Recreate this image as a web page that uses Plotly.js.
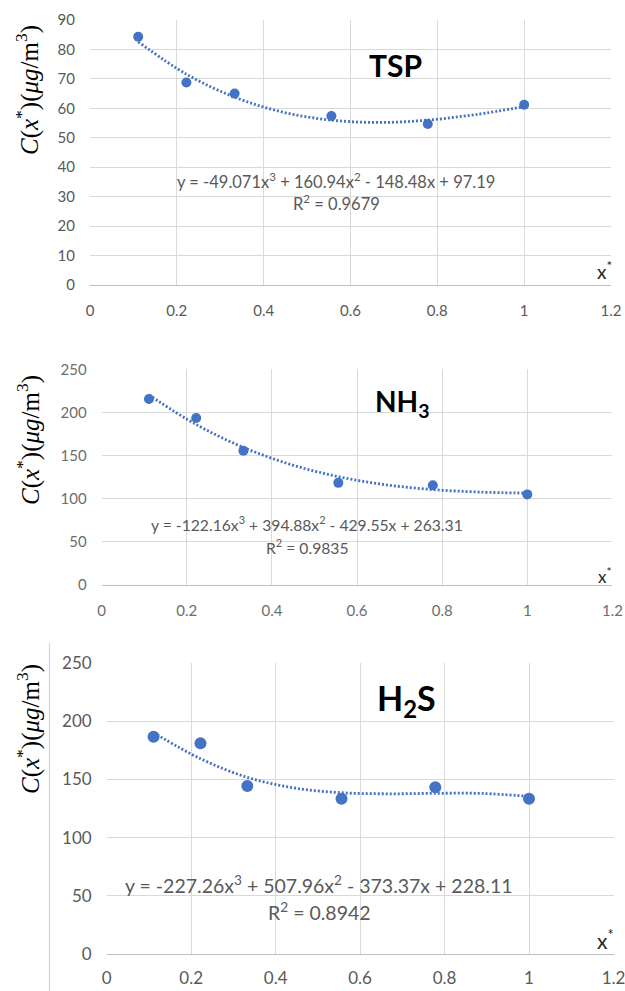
<!DOCTYPE html>
<html>
<head>
<meta charset="utf-8">
<script src="https://cdn.plot.ly/plotly-3.0.1.min.js"></script>
<style>html,body{margin:0;padding:0;background:#fff;}#chart{width:625px;height:991px;}</style>
</head>
<body>
<div id="chart"></div>
<script>
// ---- data ----
const xPoints = [0.111, 0.222, 0.333, 0.556, 0.778, 1.0];
const tspValues = [84.3, 68.8, 65.0, 57.4, 54.7, 61.2];
const nh3Values = [215.6, 193.6, 155.5, 118.4, 115.7, 105.0];
const h2sValues = [186.6, 180.9, 144.3, 133.4, 143.2, 133.4];

// dotted cubic trendlines
const xTrend = [0.111, 0.222, 0.333, 0.444, 0.556, 0.667, 0.778, 0.889, 1.0];
const tspTrend = [82.6, 71.6, 63.8, 58.7, 56.0, 55.2, 56.0, 57.9, 60.6];
const nh3Trend = [220.3, 186.0, 159.5, 139.7, 125.6, 116.2, 110.6, 107.7, 106.5];
const h2sTrend = [190.0, 167.7, 151.7, 142.6, 138.5, 137.6, 138.0, 137.9, 135.4];

const panelNames = ['TSP', 'NH<sub>3</sub>', 'H<sub>2</sub>S'];
const equations = [
  'y = -49.071x<sup>3</sup> + 160.94x<sup>2</sup> - 148.48x + 97.19',
  'y = -122.16x<sup>3</sup> + 394.88x<sup>2</sup> - 429.55x + 263.31',
  'y = -227.26x<sup>3</sup> + 507.96x<sup>2</sup> - 373.37x + 228.11'
];
const r2Labels = ['R<sup>2</sup> = 0.9679', 'R<sup>2</sup> = 0.9835', 'R<sup>2</sup> = 0.8942'];
const yRanges = [[0, 90], [0, 250], [0, 250]];
const yDticks = [10, 50, 50];
const xTickVals = [0, 0.2, 0.4, 0.6, 0.8, 1, 1.2];
const xTickText = ['0', '0.2', '0.4', '0.6', '0.8', '1', '1.2'];
const yTitle = '<i>C</i>(<i>x</i><sup>*</sup>)(<i>μg</i>/m<sup>3</sup>)';
const xLabel = 'x<sup>*</sup>';

// ---- layout helpers (pixel -> paper) ----
const W = 625, H = 991;
const px = v => v / W;
const py = v => 1 - v / H;

const blue = '#4472C4';
const panels = [
  {x0: 90, x1: 611, yTop: 20, yBot: 285, tick: 15, tickColor: '#595959', marker: 10, xStand: 12,
   name: {x: 395, y: 65, size: 30}, eq: {x: 336, y: 181, y2: 203, size: 16.5},
   ytitle: {x: 28, y: 90}, xl: {x: 614, y: 285, size: 19}},
  {x0: 101.7, x1: 612.4, yTop: 369.3, yBot: 585, tick: 15, tickColor: '#6e6e6e', marker: 10, xStand: 12,
   name: {x: 402, y: 403, size: 28}, eq: {x: 307, y: 523, y2: 546, size: 15.7},
   ytitle: {x: 28, y: 440}, xl: {x: 614, y: 589, size: 17}},
  {x0: 106.7, x1: 613.5, yTop: 662.7, yBot: 954.3, tick: 17, tickColor: '#595959', marker: 12, xStand: 8,
   name: {x: 406, y: 700, size: 34}, eq: {x: 319, y: 884, y2: 911, size: 19.5},
   ytitle: {x: 28, y: 729}, xl: {x: 616, y: 955, size: 21}}
];

const pointSets = [tspValues, nh3Values, h2sValues];
const trendSets = [tspTrend, nh3Trend, h2sTrend];

const data = [];
const layout = {
  width: W, height: H,
  margin: {l: 0, r: 0, t: 0, b: 0},
  paper_bgcolor: '#ffffff', plot_bgcolor: '#ffffff',
  showlegend: false,
  font: {family: 'Lato, "Open Sans", sans-serif', color: '#595959'},
  annotations: [],
  shapes: [
    {type: 'line', xref: 'paper', yref: 'paper', x0: px(49.5), x1: px(49.5), y0: py(643), y1: 0,
     line: {color: '#d4d4d4', width: 1.2}}
  ]
};

panels.forEach((p, i) => {
  const n = i + 1;
  const xa = n === 1 ? 'x' : 'x' + n;
  const ya = n === 1 ? 'y' : 'y' + n;
  const xk = n === 1 ? 'xaxis' : 'xaxis' + n;
  const yk = n === 1 ? 'yaxis' : 'yaxis' + n;

  data.push({
    x: xTrend, y: trendSets[i], xaxis: xa, yaxis: ya, mode: 'lines', type: 'scatter',
    line: {color: blue, width: 2.8, dash: '2px,2px', shape: 'spline', smoothing: 1},
    hoverinfo: 'skip'
  });
  data.push({
    x: xPoints, y: pointSets[i], xaxis: xa, yaxis: ya, mode: 'markers', type: 'scatter',
    marker: {color: blue, size: p.marker}
  });

  layout[xk] = {
    domain: [px(p.x0), px(p.x1)], anchor: ya,
    range: [0, 1.2], tickvals: xTickVals, ticktext: xTickText,
    showgrid: true, gridcolor: '#d9d9d9', gridwidth: 1,
    zeroline: false, showline: true, linecolor: '#bfbfbf', linewidth: 1.2,
    ticks: '', ticklabelstandoff: p.xStand, ticklabeloverflow: 'allow',
    tickfont: {size: p.tick, color: p.tickColor, family: 'Lato, sans-serif'},
    fixedrange: true
  };
  layout[yk] = {
    domain: [py(p.yBot), py(p.yTop)], anchor: xa,
    range: yRanges[i], dtick: yDticks[i], tick0: 0,
    showgrid: true, gridcolor: '#d9d9d9', gridwidth: 1,
    zeroline: false, showline: false,
    ticks: '', ticklabelstandoff: 14, ticklabeloverflow: 'allow',
    tickfont: {size: p.tick, color: p.tickColor, family: 'Lato, sans-serif'},
    fixedrange: true
  };

  layout.annotations.push(
    {xref: 'paper', yref: 'paper', x: px(p.name.x), y: py(p.name.y), text: '<b>' + panelNames[i] + '</b>',
     showarrow: false, xanchor: 'center', yanchor: 'middle',
     font: {size: p.name.size, color: '#000000', family: 'Lato, sans-serif'}},
    {xref: 'paper', yref: 'paper', x: px(p.eq.x), y: py(p.eq.y), text: equations[i],
     showarrow: false, xanchor: 'center', yanchor: 'middle',
     font: {size: p.eq.size, color: '#595959', family: 'Lato, sans-serif'}},
    {xref: 'paper', yref: 'paper', x: px(p.eq.x), y: py(p.eq.y2), text: r2Labels[i],
     showarrow: false, xanchor: 'center', yanchor: 'middle',
     font: {size: p.eq.size, color: '#595959', family: 'Lato, sans-serif'}},
    {xref: 'paper', yref: 'paper', x: px(p.ytitle.x), y: py(p.ytitle.y), text: yTitle,
     showarrow: false, textangle: -90, xanchor: 'center', yanchor: 'middle',
     font: {size: 25, color: '#000000', family: '"Liberation Serif", "DejaVu Serif", serif'}},
    {xref: 'paper', yref: 'paper', x: px(p.xl.x), y: py(p.xl.y), text: xLabel,
     showarrow: false, xanchor: 'right', yanchor: 'bottom',
     font: {size: p.xl.size, color: '#262626', family: 'Lato, sans-serif'}}
  );
});

Plotly.newPlot('chart', data, layout, {displayModeBar: false});
</script>
</body>
</html>
